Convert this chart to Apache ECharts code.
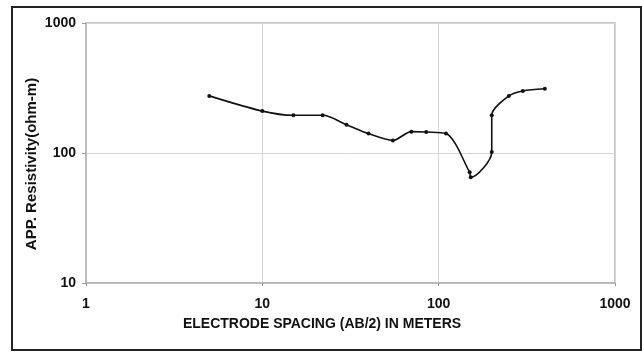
<!DOCTYPE html>
<html>
<head>
<meta charset="utf-8">
<script src="https://cdn.jsdelivr.net/npm/echarts@6/dist/echarts.min.js"></script>
<style>html,body{margin:0;padding:0;background:#fff;}#c{width:642px;height:352px;}</style>
</head>
<body>
<div id="c"></div>
<script>
const spacing = [5, 10, 15, 22, 30, 40, 55, 70, 85, 110, 150, 152, 200, 200, 250, 300, 400];
const resistivity = [275, 210, 195, 195, 165, 141, 125, 146, 145, 141, 71, 65, 102, 195, 275, 300, 312];
const xTicks = [1, 10, 100, 1000];
const yTicks = [10, 100, 1000];
const xName = 'ELECTRODE SPACING (AB/2) IN METERS';
const yName = 'APP. Resistivity(ohm-m)';

const chart = echarts.init(document.getElementById('c'), null, {renderer: 'canvas'});
const font = '"Liberation Sans", Arial, sans-serif';
chart.setOption({
  backgroundColor: '#fff',
  animation: false,
  grid: {left: 86, right: 27, top: 23, bottom: 69, show: true, borderColor: '#b4b4b4', borderWidth: 1.5},
  xAxis: {
    type: 'log', logBase: 10, min: 1, max: 1000,
    axisLine: {show: true, lineStyle: {color: '#b4b4b4', width: 1.5}},
    axisTick: {show: true, length: 3, lineStyle: {color: '#999'}},
    minorTick: {show: false},
    splitLine: {show: true, lineStyle: {color: '#d6d6d6', width: 1}},
    axisLabel: {margin: 14, color: '#111', fontWeight: 'bold', fontSize: 14, fontFamily: font,
      formatter: v => String(Math.round(v))}
  },
  yAxis: {
    type: 'log', logBase: 10, min: 10, max: 1000,
    axisLine: {show: true, lineStyle: {color: '#b4b4b4', width: 1.5}},
    axisTick: {show: true, length: 4, lineStyle: {color: '#999'}},
    splitLine: {show: true, lineStyle: {color: '#d6d6d6', width: 1}},
    axisLabel: {margin: 10, color: '#111', fontWeight: 'bold', fontSize: 14, fontFamily: font,
      formatter: v => String(Math.round(v))}
  },
  graphic: [
    {type: 'rect', shape: {x: 12, y: 7, width: 629, height: 343}, style: {fill: 'none', stroke: '#222', lineWidth: 2}, silent: true},
    {type: 'text', x: 322, y: 324, style: {text: xName, fill: '#111', font: 'bold 14px ' + font, textAlign: 'center', textVerticalAlign: 'middle'}},
    {type: 'text', x: 32, y: 164, rotation: Math.PI / 2, style: {text: yName, fill: '#111', font: 'bold 15px ' + font, textAlign: 'center', textVerticalAlign: 'middle'}}
  ],
  series: [{
    type: 'line',
    data: spacing.map((x, i) => [x, resistivity[i]]),
    smooth: 0.3,
    symbol: 'circle', symbolSize: 4,
    itemStyle: {color: '#111'},
    lineStyle: {color: '#111', width: 1.6}
  }]
});
</script>
</body>
</html>
